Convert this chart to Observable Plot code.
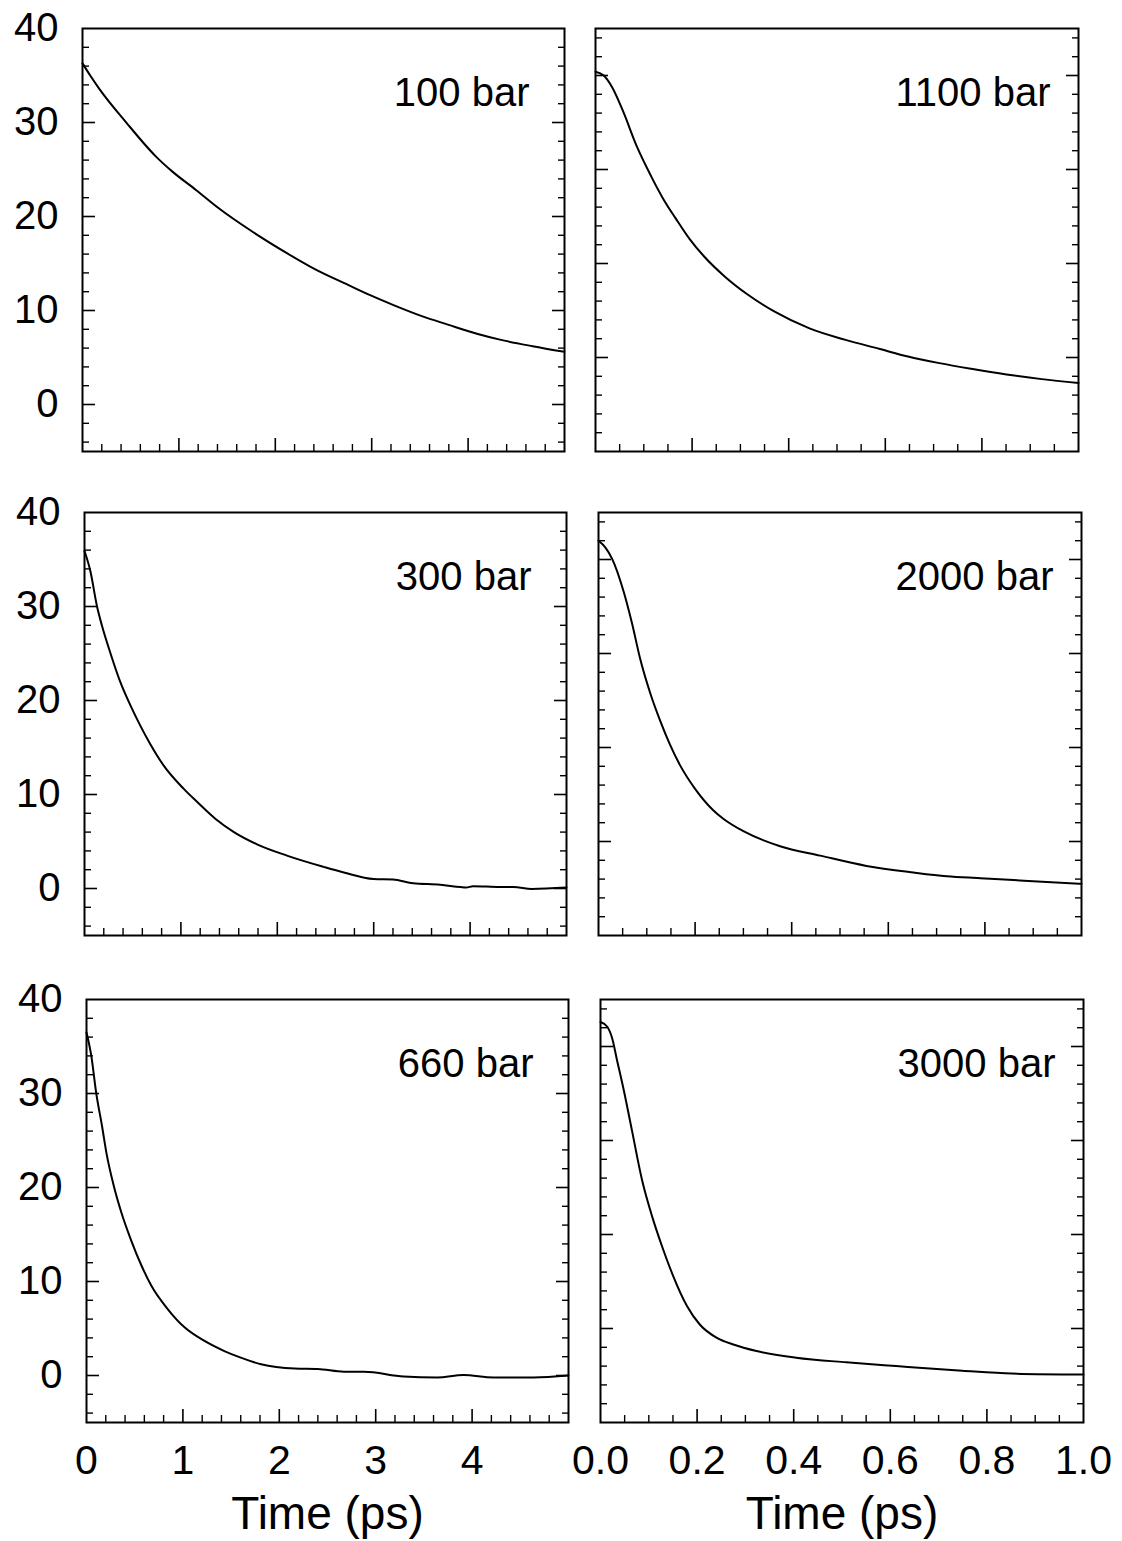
<!DOCTYPE html>
<html><head><meta charset="utf-8">
<script src="https://cdn.jsdelivr.net/npm/d3@7"></script>
<script src="https://cdn.jsdelivr.net/npm/@observablehq/plot@0.6"></script>
<style>
body{margin:0;background:#fff;}
#root{position:relative;width:1122px;height:1541px;background:#fff;overflow:hidden;color:#000}
#root svg{position:absolute;overflow:visible;background:transparent}
</style></head><body><div id="root"></div>
<script>
// ---- data ----
const panelLabels = ["100 bar", "1100 bar", "300 bar", "2000 bar", "660 bar", "3000 bar"];

const t100 = [0, 0.08, 0.18, 0.45, 0.76, 0.93, 1.18, 1.41, 1.76, 2.12, 2.41, 2.76, 2.99, 3.22, 3.52, 3.79, 4.10, 4.33, 4.67, 5.0];
const v100 = [36.3, 35.0, 33.5, 30.05, 26.4, 24.8, 22.8, 20.9, 18.4, 16.1, 14.4, 12.7, 11.6, 10.6, 9.4, 8.5, 7.5, 6.9, 6.2, 5.6];

const t1100 = [0, 0.017, 0.035, 0.057, 0.086, 0.115, 0.14, 0.166, 0.195, 0.224, 0.268, 0.315, 0.37, 0.443, 0.516, 0.589, 0.647, 0.712, 0.778, 0.851, 0.924, 1.0];
const v1100 = [35.4, 35.0, 33.7, 31.2, 27.4, 24.3, 21.9, 19.8, 17.6, 15.8, 13.6, 11.7, 9.9, 8.1, 6.9, 5.9, 5.1, 4.4, 3.8, 3.2, 2.7, 2.3];

const t300 = [0, 0.06, 0.13, 0.18, 0.27, 0.37, 0.48, 0.58, 0.68, 0.82, 1.03, 1.17, 1.36, 1.55, 1.79, 2.10, 2.48, 2.69, 3.0, 3.2, 3.41, 3.69, 3.9, 3.96, 4.03, 4.31, 4.45, 4.64, 5.0];
const v300 = [35.9, 33.8, 30.0, 28.0, 25.0, 22.0, 19.4, 17.3, 15.4, 13.1, 10.6, 9.2, 7.4, 6.0, 4.7, 3.5, 2.3, 1.7, 1.0, 0.95, 0.55, 0.4, 0.15, 0.1, 0.25, 0.15, 0.15, -0.05, 0.1];

const t2000 = [0, 0.014, 0.028, 0.052, 0.069, 0.086, 0.107, 0.128, 0.148, 0.169, 0.2, 0.238, 0.259, 0.30, 0.376, 0.459, 0.555, 0.652, 0.721, 0.79, 0.859, 0.928, 1.0];
const v2000 = [37.0, 36.3, 35.1, 31.6, 28.3, 24.5, 20.8, 17.8, 15.3, 13.1, 10.6, 8.3, 7.4, 6.1, 4.5, 3.5, 2.4, 1.7, 1.3, 1.1, 0.9, 0.7, 0.5];

const t660 = [0, 0.05, 0.10, 0.16, 0.21, 0.28, 0.36, 0.47, 0.57, 0.67, 0.84, 1.02, 1.22, 1.43, 1.60, 1.81, 2.16, 2.40, 2.67, 2.88, 3.29, 3.64, 3.91, 4.22, 4.64, 5.0];
const v660 = [36.5, 34.0, 30.1, 26.6, 23.5, 20.3, 17.4, 14.2, 11.7, 9.6, 7.1, 5.1, 3.7, 2.6, 1.9, 1.2, 0.75, 0.7, 0.4, 0.4, -0.1, -0.2, 0.05, -0.2, -0.2, 0];

const t3000 = [0, 0.014, 0.024, 0.034, 0.048, 0.065, 0.086, 0.107, 0.127, 0.148, 0.179, 0.206, 0.241, 0.275, 0.323, 0.405, 0.509, 0.612, 0.749, 0.852, 1.0];
const v3000 = [37.6, 37.1, 35.9, 33.6, 30.4, 26.1, 20.8, 16.9, 13.8, 10.9, 7.4, 5.4, 4.0, 3.3, 2.6, 1.9, 1.4, 1.0, 0.5, 0.2, 0.1];

const seriesT = [t100, t1100, t300, t2000, t660, t3000];
const seriesV = [v100, v1100, v300, v2000, v660, v3000];

// tick values / labels
const yLabelTicks = [0, 10, 20, 30, 40];
const yMajorLeftCol = [0, 10, 20, 30];
const yMinorLeftCol = [-4, -2, 2, 4, 6, 8, 12, 14, 16, 18, 22, 24, 26, 28, 32, 34, 36, 38];
const yMajorRightCol = [5, 15, 25, 35];
const yMinorRightCol = [-3, -1, 1, 3, 7, 9, 11, 13, 17, 19, 21, 23, 27, 29, 31, 33, 37, 39];
const xMajorLeft = [1, 2, 3, 4];
const xMinorLeft = [0.2,0.4,0.6,0.8,1.2,1.4,1.6,1.8,2.2,2.4,2.6,2.8,3.2,3.4,3.6,3.8,4.2,4.4,4.6,4.8];
const xLabelsLeft = [0, 1, 2, 3, 4];
const xMajorRight = [0.2, 0.4, 0.6, 0.8];
const xMinorRight = [0.05,0.1,0.15,0.25,0.3,0.35,0.45,0.5,0.55,0.65,0.7,0.75,0.85,0.9,0.95];
const xLabelsRight = [0, 0.2, 0.4, 0.6, 0.8, 1.0];
const axisTitle = "Time (ps)";

// ---- layout ----
const frameLefts = [[82, 595], [84, 598], [86, 600]];
const frameTops = [28, 512, 999];
const FW = [482, 483], FH = 423;
const SANS = "Liberation Sans, Arial, Helvetica, sans-serif";

const root = document.getElementById("root");
const blank = () => "";

for (let i = 0; i < 6; i++) {
  const row = Math.floor(i / 2), col = i % 2;
  const fl = frameLefts[row][col], ft = frameTops[row];
  const svgLeft = col ? 575 : 0;
  const mL = fl - svgLeft, mT = 30, mR = 12, mB = row === 2 ? 122 : 12;
  const data = seriesT[i].map((t, k) => ({t, v: seriesV[i][k]}));
  const yMaj = col ? yMajorRightCol : yMajorLeftCol;
  const yMin = col ? yMinorRightCol : yMinorLeftCol;
  const xMaj = col ? xMajorRight : xMajorLeft;
  const xMin = col ? xMinorRight : xMinorLeft;
  const marks = [
    Plot.axisY(yMaj, {anchor: "left", tickSize: -13, tickFormat: blank, strokeWidth: 1.6, label: null}),
    Plot.axisY(yMin, {anchor: "left", tickSize: -7, tickFormat: blank, strokeWidth: 1.4, label: null}),
    Plot.axisY(yMaj, {anchor: "right", tickSize: -13, tickFormat: blank, strokeWidth: 1.6, label: null}),
    Plot.axisY(yMin, {anchor: "right", tickSize: -7, tickFormat: blank, strokeWidth: 1.4, label: null}),
    Plot.axisX(xMaj, {anchor: "bottom", tickSize: -13, tickFormat: blank, strokeWidth: 1.6, label: null}),
    Plot.axisX(xMin, {anchor: "bottom", tickSize: -7, tickFormat: blank, strokeWidth: 1.4, label: null}),
    Plot.frame({stroke: "black", strokeWidth: 2}),
    Plot.line(data, {x: "t", y: "v", stroke: "black", strokeWidth: 2, curve: "monotone-x"}),
    Plot.text([panelLabels[i]], {frameAnchor: "top-right", dx: col ? -28 : -35, dy: 65, textAnchor: "end",
      lineAnchor: "middle", fontSize: 40, fontFamily: SANS, fill: "black"})
  ];
  if (col === 0) {
    marks.push(Plot.axisY(yLabelTicks, {anchor: "left", tickSize: 0, tickPadding: 24, fontSize: 40,
      fontFamily: SANS, tickFormat: d => String(d), label: null, fill: "black"}));
  }
  if (row === 2) {
    marks.push(Plot.axisX(col ? xLabelsRight : xLabelsLeft, {anchor: "bottom", tickSize: 0, tickPadding: 22,
      fontSize: 41, fontFamily: SANS, tickFormat: col ? d3.format(".1f") : d => String(d), label: null, fill: "black"}));
    marks.push(Plot.text([axisTitle], {frameAnchor: "bottom", dy: 74, lineAnchor: "top", fontSize: 46,
      fontFamily: SANS, fill: "black"}));
  }
  const chart = Plot.plot({
    width: mL + FW[col] + mR, height: mT + FH + mB,
    marginLeft: mL, marginRight: mR, marginTop: mT, marginBottom: mB,
    x: {domain: col ? [0, 1] : [0, 5]},
    y: {domain: [-5, 40]},
    style: {background: "transparent", overflow: "visible"},
    marks
  });
  chart.style.left = svgLeft + "px";
  chart.style.top = (ft - mT) + "px";
  root.appendChild(chart);
}
</script></body></html>
